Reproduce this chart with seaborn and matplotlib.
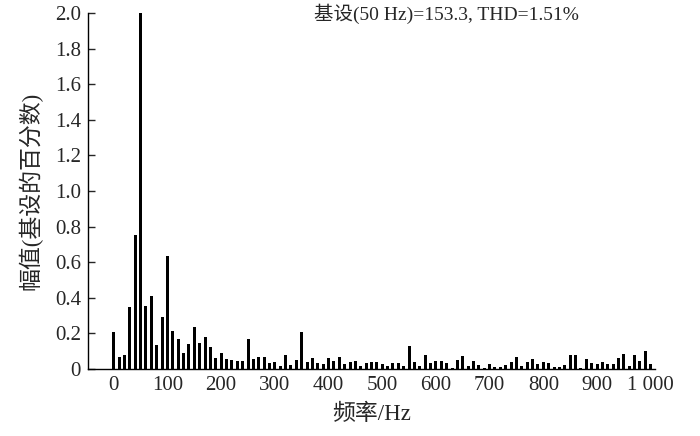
import matplotlib
matplotlib.use("Agg")
import matplotlib.pyplot as plt
import seaborn as sns
import pandas as pd
import numpy as np

freqs = list(range(0, 1001, 10))
amps = [
    0.206, 0.066, 0.079, 0.35, 0.75, 2.0, 0.356, 0.41, 0.137, 0.29,
    0.633, 0.213, 0.17, 0.09, 0.139, 0.234, 0.148, 0.18, 0.122, 0.062,
    0.09, 0.056, 0.052, 0.043, 0.043, 0.17, 0.054, 0.066, 0.066, 0.032,
    0.041, 0.019, 0.079, 0.022, 0.05, 0.206, 0.037, 0.06, 0.034, 0.026,
    0.06, 0.047, 0.069, 0.03, 0.039, 0.047, 0.015, 0.032, 0.037, 0.037,
    0.026, 0.019, 0.032, 0.032, 0.019, 0.129, 0.037, 0.019, 0.079, 0.032,
    0.045, 0.045, 0.032, 0.004, 0.049, 0.071, 0.019, 0.043, 0.022, 0.008,
    0.026, 0.013, 0.013, 0.022, 0.04, 0.066, 0.019, 0.04, 0.056, 0.026,
    0.037, 0.032, 0.009, 0.013, 0.022, 0.08, 0.077, 0.008, 0.056, 0.034,
    0.028, 0.039, 0.026, 0.026, 0.06, 0.082, 0.017, 0.077, 0.045, 0.1,
    0.028,
]
xticks = [0, 100, 200, 300, 400, 500, 600, 700, 800, 900, 1000]
xticklabels = ["0", "100", "200", "300", "400", "500", "600", "700", "800", "900", "1 000"]
yticks = [0, 0.2, 0.4, 0.6, 0.8, 1.0, 1.2, 1.4, 1.6, 1.8, 2.0]
yticklabels = ["0", "0.2", "0.4", "0.6", "0.8", "1.0", "1.2", "1.4", "1.6", "1.8", "2.0"]
title_text = "基设(50 Hz)=153.3, THD=1.51%"
xlabel = "频率/Hz"
ylabel = "幅值(基设的百分数)"

sns.set_style("white")
plt.rcParams['font.family'] = ['Liberation Serif', 'Noto Sans CJK SC', 'DejaVu Sans']
mixed = ['Liberation Serif', 'Noto Sans CJK SC']

df = pd.DataFrame({"freq": freqs, "amp": amps})

fig = plt.figure(figsize=(7, 4.36), dpi=100)
ax = fig.add_axes([88/700, 1-369/436, (655-88)/700, (369-13)/436])
sns.barplot(data=df, x="freq", y="amp", native_scale=True, width=0.56,
            color="black", edgecolor="black", linewidth=0, ax=ax, saturation=1)

ax.set_xlim(-48, 1008)
ax.set_ylim(0, 2.0)
ax.set_xticks(xticks)
ax.set_xticklabels(xticklabels, fontsize=15)
ax.set_yticks(yticks)
ax.set_yticklabels(yticklabels, fontsize=15)
ax.tick_params(axis='x', length=0, pad=5)
ax.tick_params(axis='y', direction='in', length=5, width=1, pad=5, left=True)
for s in ["top", "right"]:
    ax.spines[s].set_visible(False)
for s in ["left", "bottom"]:
    ax.spines[s].set_color("black")
    ax.spines[s].set_linewidth(1)

ax.set_xlabel(xlabel, fontsize=16.5, labelpad=6, family=mixed)
ax.set_ylabel(ylabel, fontsize=16.5, labelpad=9, family=mixed)
fig.text(446/700, 1-14/436, title_text, ha='center', va='center', fontsize=14,
         family=mixed)

fig.savefig("out.png", dpi=100)
